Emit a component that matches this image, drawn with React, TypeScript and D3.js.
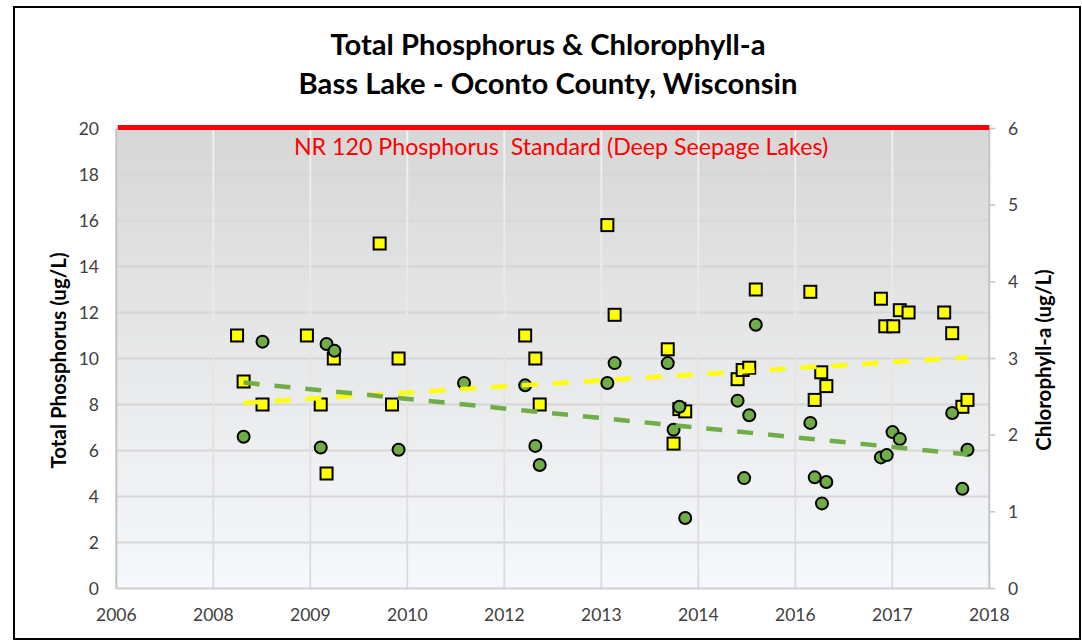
import React from "react";
import * as d3 from "d3";

// ---- Data (decimal years on a 2006–2018 linear axis) ----
const tpYears = [2007.66, 2007.75, 2008.01, 2008.62, 2008.81, 2008.89, 2008.99, 2009.62, 2009.79, 2009.88, 2011.62, 2011.76, 2011.82, 2012.75, 2012.85, 2013.58, 2013.66, 2013.74, 2013.82, 2014.54, 2014.61, 2014.70, 2014.79, 2015.54, 2015.60, 2015.69, 2015.76, 2016.51, 2016.57, 2016.68, 2016.77, 2016.89, 2017.38, 2017.49, 2017.63, 2017.70];
const tpValues = [11.0, 9.0, 8.0, 11.0, 8.0, 5.0, 10.0, 15.0, 8.0, 10.0, 11.0, 10.0, 8.0, 15.8, 11.9, 10.4, 6.3, 7.8, 7.7, 9.1, 9.5, 9.6, 13.0, 12.9, 8.2, 9.4, 8.8, 12.6, 11.4, 11.4, 12.1, 12.0, 12.0, 11.1, 7.9, 8.2];

const chlYears = [2007.75, 2008.01, 2008.81, 2008.89, 2009.0, 2009.88, 2010.78, 2011.62, 2011.76, 2011.82, 2012.75, 2012.85, 2013.58, 2013.66, 2013.74, 2013.82, 2014.54, 2014.63, 2014.70, 2014.79, 2015.54, 2015.60, 2015.70, 2015.76, 2016.51, 2016.59, 2016.67, 2016.77, 2017.49, 2017.63, 2017.70];
const chlValues = [1.98, 3.22, 1.84, 3.19, 3.10, 1.81, 2.68, 2.65, 1.86, 1.61, 2.68, 2.94, 2.94, 2.07, 2.37, 0.92, 2.45, 1.44, 2.26, 3.44, 2.16, 1.45, 1.11, 1.39, 1.71, 1.74, 2.04, 1.95, 2.29, 1.30, 1.81];

// TP trend line (start / end)
const tpTrendYears = [2007.75, 2017.7];
const tpTrendValues = [8.07, 10.05];

const xTickLabels = ["2006", "2008", "2009", "2010", "2012", "2013", "2014", "2016", "2017", "2018"];
const leftTicks = [0, 2, 4, 6, 8, 10, 12, 14, 16, 18, 20];
const rightTicks = [0, 1, 2, 3, 4, 5, 6];
const standardValue = [20];

const titleLines = ["Total Phosphorus & Chlorophyll-a", "Bass Lake - Oconto County, Wisconsin"];
const standardLabel = "NR 120 Phosphorus  Standard (Deep Seepage Lakes)";
const leftTitle = "Total Phosphorus (ug/L)";
const rightTitle = "Chlorophyll-a (ug/L)";

const W = 1082;
const H = 640;
const plot = { left: 116.3, right: 989.3, top: 128.5, bottom: 588.5 };
const FONT = "Lato, 'Open Sans', sans-serif";

function linreg(xs: number[], ys: number[]) {
  const mx = d3.mean(xs)!;
  const my = d3.mean(ys)!;
  let num = 0, den = 0;
  xs.forEach((x, i) => { num += (x - mx) * (ys[i] - my); den += (x - mx) * (x - mx); });
  const b = num / den;
  const a = my - b * mx;
  return (x: number) => a + b * x;
}

export default function App() {
  const x = d3.scaleLinear().domain([2006, 2018]).range([plot.left, plot.right]);
  const yL = d3.scaleLinear().domain([0, 20]).range([plot.bottom, plot.top]);
  const yR = d3.scaleLinear().domain([0, 6]).range([plot.bottom, plot.top]);
  const xTicks = xTickLabels.map((_, i) => 2006 + (i * 12) / (xTickLabels.length - 1));

  const chlFit = linreg(chlYears, chlValues);
  const chlExt = d3.extent(chlYears) as [number, number];
  const line = d3.line<[number, number]>();
  const tpTrend = line(tpTrendYears.map((t, i) => [x(t), yL(tpTrendValues[i])] as [number, number]));
  const chlTrend = line(chlExt.map((t) => [x(t), yR(chlFit(t))] as [number, number]));

  const sq = 12;
  return (
    <svg width={W} height={H} style={{ position: "absolute", left: 0, top: 0 }} fontFamily={FONT}>
      <defs>
        <linearGradient id="bg" x1="0" y1="0" x2="0" y2="1">
          <stop offset="0" stopColor="#d7d7d7" />
          <stop offset="0.5" stopColor="#e7e8e9" />
          <stop offset="1" stopColor="#f5f8fc" />
        </linearGradient>
        <linearGradient id="vg" gradientUnits="userSpaceOnUse" x1="0" y1={plot.top} x2="0" y2={plot.bottom}>
          <stop offset="0" stopColor="#f2f2f2" />
          <stop offset="1" stopColor="#d9d9d9" />
        </linearGradient>
      </defs>
      <rect x={0} y={0} width={W} height={H} fill="#ffffff" />
      <rect x={14} y={7} width={1066} height={632} fill="none" stroke="#000" strokeWidth={2} />

      {/* Titles */}
      {titleLines.map((t, i) => (
        <text key={t} x={548} y={55 + i * 38.5} textAnchor="middle" fontWeight="bold" fontSize={29.2} fill="#000">{t}</text>
      ))}

      {/* Plot background */}
      <rect x={plot.left} y={plot.top} width={plot.right - plot.left} height={plot.bottom - plot.top} fill="url(#bg)" />

      {/* Gridlines */}
      {leftTicks.slice(1).map((v) => (
        <line key={"h" + v} x1={plot.left} x2={plot.right} y1={yL(v)} y2={yL(v)} stroke="#d6d6d6" strokeWidth={1.8} />
      ))}
      {xTicks.slice(1, -1).map((v) => (
        <line key={"v" + v} x1={x(v)} x2={x(v)} y1={plot.top} y2={plot.bottom} stroke="url(#vg)" strokeWidth={1.8} />
      ))}

      {/* Axis lines */}
      <line x1={plot.left} x2={plot.left} y1={plot.top} y2={plot.bottom} stroke="#c4c4c4" strokeWidth={2} />
      <line x1={plot.left} x2={plot.right} y1={plot.bottom} y2={plot.bottom} stroke="#d0d0d0" strokeWidth={2} />
      <line x1={plot.right} x2={plot.right} y1={plot.top} y2={plot.bottom} stroke="#c4c4c4" strokeWidth={2} />
      {rightTicks.map((v) => (
        <line key={"rt" + v} x1={plot.right} x2={plot.right + 6} y1={yR(v)} y2={yR(v)} stroke="#c4c4c4" strokeWidth={1.5} />
      ))}

      {/* Standard line */}
      {standardValue.map((v) => (
        <line key={"std" + v} x1={plot.left + 1.5} x2={plot.right} y1={yL(v) - 1} y2={yL(v) - 1} stroke="#ff0000" strokeWidth={5} />
      ))}
      <text x={561} y={155} textAnchor="middle" fontSize={23.2} fill="#ff0000" style={{ whiteSpace: "pre" }}>{standardLabel}</text>

      {/* Tick labels */}
      {leftTicks.map((v) => (
        <text key={"lt" + v} x={99} y={yL(v)} dy="0.36em" textAnchor="end" fontSize={17.5} fill="#404040">{v}</text>
      ))}
      {rightTicks.map((v) => (
        <text key={"rl" + v} x={1008} y={yR(v)} dy="0.36em" textAnchor="start" fontSize={17.5} fill="#404040">{v}</text>
      ))}
      {xTicks.map((v, i) => (
        <text key={"xt" + i} x={x(v)} y={615} dy="0.36em" textAnchor="middle" fontSize={17.5} fill="#404040">{xTickLabels[i]}</text>
      ))}

      {/* Axis titles */}
      <text transform={`translate(66,360.5) rotate(-90)`} textAnchor="middle" fontWeight="bold" fontSize={20.5} fill="#000">{leftTitle}</text>
      <text transform={`translate(1051,360) rotate(-90)`} textAnchor="middle" fontWeight="bold" fontSize={20.5} fill="#000">{rightTitle}</text>

      {/* TP squares */}
      {tpYears.map((t, i) => (
        <rect key={"tp" + i} x={x(t) - sq / 2} y={yL(tpValues[i]) - sq / 2} width={sq} height={sq} fill="#ffff00" stroke="#000" strokeWidth={2} />
      ))}
      {/* Chl circles */}
      {chlYears.map((t, i) => (
        <circle key={"ch" + i} cx={x(t)} cy={yR(chlValues[i])} r={6} fill="#70ad47" stroke="#000" strokeWidth={2} />
      ))}

      {/* Trend lines */}
      <path d={tpTrend ?? ""} fill="none" stroke="#ffff00" strokeWidth={4.5} strokeDasharray="16 15" />
      <path d={chlTrend ?? ""} fill="none" stroke="#70ad47" strokeWidth={4.5} strokeDasharray="16 15" />
    </svg>
  );
}
